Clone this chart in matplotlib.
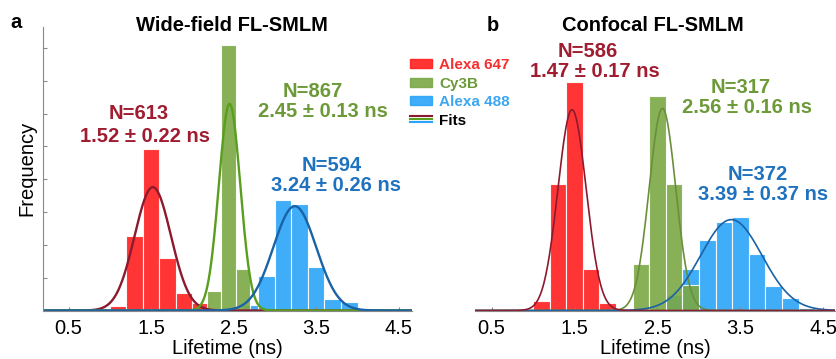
import numpy as np
import matplotlib
matplotlib.use("Agg")
import matplotlib.pyplot as plt
from matplotlib.patches import Patch
from matplotlib.lines import Line2D
from matplotlib.legend_handler import HandlerBase

plt.rcParams['font.family'] = ['Liberation Sans', 'DejaVu Sans']

# --- data (frequency in arbitrary units) ---
# panel a: wide-field
a_red_edges = [1.0, 1.2, 1.4, 1.6, 1.8, 2.0]
a_red_counts = [0.15, 2.28, 4.93, 1.60, 0.53, 0.23]
a_green_edges = [2.175, 2.35, 2.525]
a_green_counts = [0.59, 8.09, 1.27]
a_blue_edges = [2.6, 2.8, 3.0, 3.2, 3.4, 3.6, 3.8]
a_blue_counts = [0.18, 1.04, 3.37, 3.25, 1.34, 0.35, 0.27]

# panel b: confocal
b_red_edges = [1.0, 1.2, 1.4, 1.6, 1.8]
b_red_counts = [0.30, 3.87, 6.95, 1.25, 0.24]
b_green_edges = [2.2, 2.4, 2.6, 2.8]
b_green_counts = [1.43, 6.55, 3.87, 0.79]
b_blue_edges = [2.6, 2.8, 3.0, 3.2, 3.4, 3.6, 3.8, 4.0, 4.2, 4.4]
b_blue_counts = [0.46, 1.25, 2.16, 2.71, 2.84, 1.71, 0.76, 0.37, 0.09, 0.03]

# gaussian fits: (N, mean, sigma, peak height)
a_fits = {'red': (613, 1.52, 0.22, 3.76), 'green': (867, 2.45, 0.13, 6.30), 'blue': (594, 3.24, 0.26, 3.18)}
b_fits = {'red': (586, 1.47, 0.17, 6.12), 'green': (317, 2.56, 0.16, 6.16), 'blue': (372, 3.39, 0.37, 2.77)}

bar_cols = {'red': '#ff1f1f', 'green': '#7aa845', 'blue': '#2aa4f8'}
txt_cols = {'red': '#a01c30', 'green': '#6c9a38', 'blue': '#1f72bf'}
fit_cols_a = {'red': '#8c1a2e', 'green': '#5a9e1e', 'blue': '#1a62a6'}
fit_cols_b = {'red': '#8c1a2e', 'green': '#6a8f3a', 'blue': '#1a62a6'}

W, H = 837, 359
fig = plt.figure(figsize=(W / 100, H / 100), dpi=100)

bottom = 1 - 310.5 / H
height = (310.5 - 26.7) / H
ax_a = fig.add_axes([43 / W, bottom, (412 - 43) / W, height])
ax_b = fig.add_axes([475 / W, bottom, (835 - 475) / W, height])


def draw_panel(ax, xlim, bars, fits, fit_cols, fit_order, lw):
    for key, edges, counts, width in bars:
        ax.bar(edges, counts, width=width, align='edge', color=bar_cols[key],
               alpha=0.9, edgecolor='white', linewidth=0.8)
    x = np.linspace(xlim[0], xlim[1], 600)
    for key in fit_order:
        n, mu, sd, peak = fits[key]
        ax.plot(x, peak * np.exp(-0.5 * ((x - mu) / sd) ** 2), color=fit_cols[key], lw=lw,
                solid_capstyle='butt')
    ax.set_xlim(*xlim)
    ax.set_ylim(0, 8.65)
    ax.set_xticks([0.5, 1.5, 2.5, 3.5, 4.5])
    ax.set_xticklabels(['0.5', '1.5', '2.5', '3.5', '4.5'])
    ax.tick_params(axis='x', direction='in', length=3, color='#888888', labelsize=14.5, pad=6)
    ax.set_xlabel('Lifetime (ns)', fontsize=14.5, labelpad=1)
    for s in ['top', 'right']:
        ax.spines[s].set_visible(False)
    ax.spines['bottom'].set_color('#888888')
    ax.spines['left'].set_color('#888888')


draw_panel(ax_a, (0.19, 4.66),
           [('red', a_red_edges, a_red_counts, 0.2),
            ('blue', a_blue_edges, a_blue_counts, 0.2),
            ('green', a_green_edges, a_green_counts, 0.175)],
           a_fits, fit_cols_a, ['red', 'green', 'blue'], 1.7)
ax_a.set_yticks(np.arange(1, 9))
ax_a.set_yticklabels([])
ax_a.tick_params(axis='y', direction='in', length=3, color='#888888')
ax_a.set_ylabel('Frequency', fontsize=14.5, labelpad=1.5)

draw_panel(ax_b, (0.30, 4.64),
           [('red', b_red_edges, b_red_counts, 0.2),
            ('blue', b_blue_edges, b_blue_counts, 0.2),
            ('green', b_green_edges, b_green_counts, 0.2)],
           b_fits, fit_cols_b, ['green', 'blue', 'red'], 1.2)
ax_b.spines['left'].set_visible(False)
ax_b.set_yticks([])


# annotations, positions in figure pixels (centre x, baseline y)
def ptext(px, py, s, color, **kw):
    fig.text(px / W, 1 - py / H, s, color=color, fontsize=14.5, fontweight='bold',
             ha='center', va='baseline', **kw)


labels_a = [(139, 119, 'N=613', 'red'), (145, 142, '1.52 ± 0.22 ns', 'red'),
            (313, 97, 'N=867', 'green'), (323, 117, '2.45 ± 0.13 ns', 'green'),
            (332, 171, 'N=594', 'blue'), (336, 191, '3.24 ± 0.26 ns', 'blue')]
labels_b = [(588, 57, 'N=586', 'red'), (595, 77, '1.47 ± 0.17 ns', 'red'),
            (741, 93, 'N=317', 'green'), (747, 113, '2.56 ± 0.16 ns', 'green'),
            (758, 180, 'N=372', 'blue'), (763, 200, '3.39 ± 0.37 ns', 'blue')]
for px, py, s, k in labels_a + labels_b:
    ptext(px, py, s, txt_cols[k])

ptext(231.5, 31, 'Wide-field FL-SMLM', 'black')
ptext(653.3, 31, 'Confocal FL-SMLM', 'black')
fig.text(10 / W, 1 - 28.5 / H, 'a', fontsize=14.5, fontweight='bold', ha='left', va='baseline')
fig.text(486.7 / W, 1 - 31 / H, 'b', fontsize=14.5, fontweight='bold', ha='left', va='baseline')


class FitsHandler(HandlerBase):
    def create_artists(self, legend, orig_handle, xdescent, ydescent, width, height, fontsize, trans):
        arts = []
        cols = [fit_cols_b['red'], fit_cols_a['green'], '#2aa4f8']
        for i, c in enumerate(cols):
            y = height / 2 - ydescent + (1 - i) * 2.2
            arts.append(Line2D([-xdescent, width - xdescent], [y, y], color=c, lw=1.5, transform=trans))
        return arts


handles = [Patch(color=bar_cols['red'], alpha=0.9), Patch(color=bar_cols['green'], alpha=0.9),
           Patch(color=bar_cols['blue'], alpha=0.9), Line2D([], [])]
leg = fig.legend(handles, ['Alexa 647', 'Cy3B', 'Alexa 488', 'Fits'],
                 handler_map={Line2D: FitsHandler()},
                 loc='upper left', bbox_to_anchor=(410 / W, 1 - 58 / H),
                 frameon=False, borderpad=0, borderaxespad=0, handlelength=1.45,
                 handleheight=0.55, handletextpad=0.45, labelspacing=0.3,
                 prop={'size': 11, 'weight': 'bold'})
for t, c in zip(leg.get_texts(), ['#f5302f', '#6c9a38', '#3ca6f2', 'black']):
    t.set_color(c)

fig.savefig('out.png', dpi=100)
